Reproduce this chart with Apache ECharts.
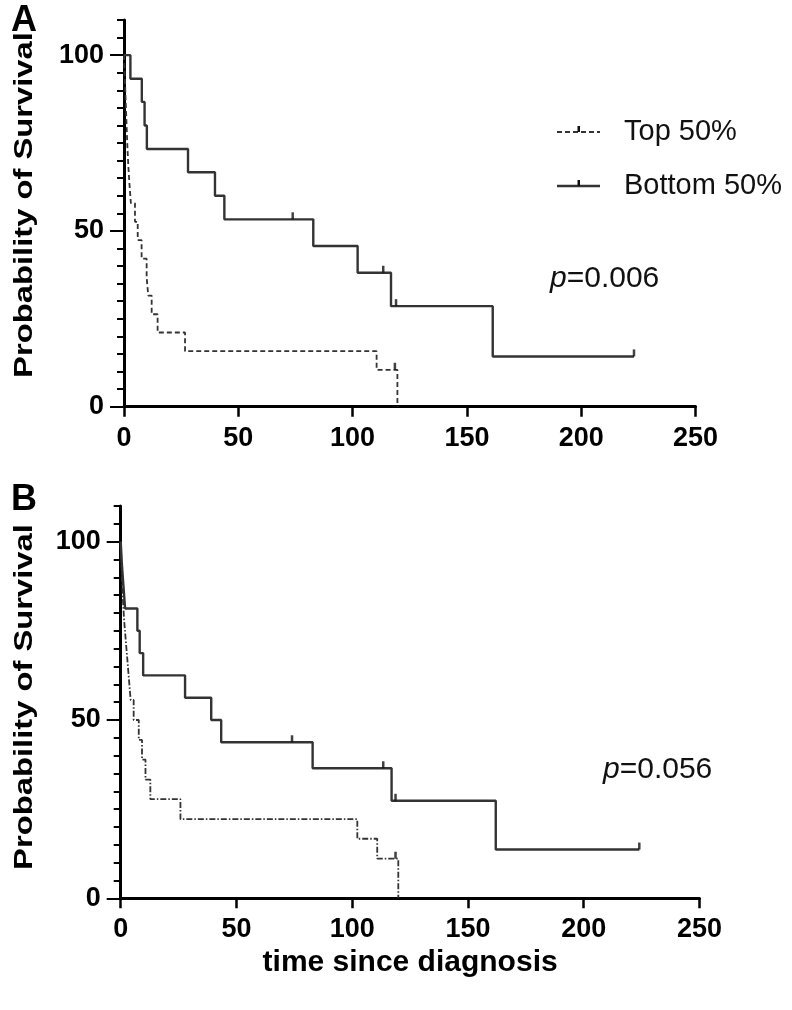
<!DOCTYPE html>
<html><head><meta charset="utf-8">
<script src="https://cdn.jsdelivr.net/npm/echarts@6/dist/echarts.min.js"></script>
<style>html,body{margin:0;padding:0;background:#fff}#c{width:792px;height:1010px}</style>
</head><body><div id="c"></div>
<script>
// ---- data ----
const xTickValues = [0, 50, 100, 150, 200, 250];
const yTickValues = [0, 50, 100];
const seriesNames = ['Top 50%', 'Bottom 50%'];
const xTitle = 'time since diagnosis';
const yTitle = 'Probability of Survival';
const pValueA = '0.006';
const pValueB = '0.056';

// Panel A
const topA_t = [0, 0.3, 0.6, 0.9, 1.2, 1.5, 1.9, 2.4, 3.0, 4.8, 6.0, 7.7, 9.9, 10.6, 12.1, 14.7, 26.7, 110.5, 119.6];
const topA_s = [100, 94.7, 89.5, 84.2, 78.9, 73.7, 68.4, 63.2, 57.9, 52.6, 47.4, 42.1, 36.8, 31.6, 26.3, 21.1, 15.8, 10.5, 0];
const topA_censor_t = [118.5];
const topA_censor_s = [10.5];
const botA_t = [0, 2.8, 7.8, 9.0, 10.0, 28.0, 39.8, 43.9, 82.8, 102.2, 116.8, 161.3, 223.1];
const botA_s = [100, 93.3, 86.7, 80.0, 73.3, 66.7, 60.0, 53.3, 45.7, 38.1, 28.6, 14.3, 14.3];
const botA_censor_t = [73.8, 113.4, 119.0, 223.1];
const botA_censor_s = [53.3, 38.1, 28.6, 14.3];

// Panel B
const topB_t = [0, 0.3, 0.6, 1.0, 1.5, 2.2, 2.9, 3.6, 4.3, 5.6, 7.8, 9.2, 10.7, 12.8, 25.8, 102.2, 110.8, 119.9];
const topB_s = [100, 94.4, 88.9, 83.3, 77.8, 72.2, 66.7, 61.1, 55.6, 50.0, 44.4, 38.9, 33.3, 27.8, 22.2, 16.7, 11.1, 0];
const topB_censor_t = [118.7];
const topB_censor_s = [11.1];
const botB_t = [0, 0.5, 1.2, 1.9, 7.2, 8.2, 9.7, 27.8, 39.1, 43.4, 82.9, 117.0, 162.0, 224.0];
const botB_s = [100, 93.75, 87.5, 81.25, 75, 68.75, 62.5, 56.25, 50, 43.75, 36.46, 27.34, 13.67, 13.67];
const botB_censor_t = [74.0, 113.4, 118.7, 224.0];
const botB_censor_s = [43.75, 36.46, 27.34, 13.67];

// ---- chart ----
const F = "'Liberation Sans',Arial,sans-serif";
const pairs = (t, s) => t.map((v, i) => [v, s[i]]);
const chart = echarts.init(document.getElementById('c'));
const LINE = '#333333';

function xAxis(gi, withName) {
  const a = {
    type: 'value', gridIndex: gi, min: 0, max: 250, interval: 50,
    axisLine: { show: true, onZero: false, lineStyle: { color: '#000', width: 3 } },
    axisTick: { show: true, length: 10, customValues: xTickValues, lineStyle: { color: '#000', width: 2.5 } },
    axisLabel: { customValues: xTickValues, margin: 18, fontSize: 27, fontWeight: 'bold', color: '#000', fontFamily: F },
    splitLine: { show: false }
  };
  if (withName) {
    a.name = xTitle; a.nameLocation = 'middle'; a.nameGap = 49;
    a.nameTextStyle = { fontSize: 30, fontWeight: 'bold', color: '#000', fontFamily: F };
  }
  return a;
}
function yMinor(gi) {
  return {
    type: 'value', gridIndex: gi, position: 'left', min: 0, max: 110, interval: 5,
    axisLine: { show: true, onZero: false, lineStyle: { color: '#000', width: 3 } },
    axisTick: { show: true, length: 7, lineStyle: { color: '#000', width: 2 } },
    axisLabel: { show: false }, splitLine: { show: false }
  };
}
function yMajor(gi) {
  return {
    type: 'value', gridIndex: gi, position: 'left', offset: 0, min: 0, max: 110, interval: 5,
    axisLine: { show: false, onZero: false },
    axisTick: { show: true, length: 14, customValues: yTickValues, lineStyle: { color: '#000', width: 2 } },
    axisLabel: { customValues: yTickValues, margin: 20, fontSize: 27, fontWeight: 'bold', color: '#000', fontFamily: F },
    splitLine: { show: false }
  };
}
function stepLine(name, t, s, xi, yi, dash, width) {
  return {
    type: 'line', name: name, xAxisIndex: xi, yAxisIndex: yi, step: 'end', symbol: 'none',
    data: pairs(t, s), silent: true, z: 3,
    lineStyle: { color: LINE, width: width, type: dash, cap: 'butt' }
  };
}
function censor(t, s, xi, yi) {
  return {
    type: 'scatter', xAxisIndex: xi, yAxisIndex: yi, data: pairs(t, s), silent: true, z: 4,
    symbol: 'rect', symbolSize: [2.5, 7], symbolOffset: [0, -3.5],
    itemStyle: { color: '#111' }
  };
}

const option = {
  backgroundColor: '#fff',
  animation: false,
  grid: [
    { left: 124, top: 20, width: 571.5, height: 386.7 },
    { left: 120.7, top: 506, width: 578.8, height: 392.3 }
  ],
  xAxis: [xAxis(0, false), xAxis(1, true)],
  yAxis: [yMinor(0), yMajor(0), yMinor(1), yMajor(1)],
  series: [
    stepLine(seriesNames[0], topA_t, topA_s, 0, 0, [5, 3], 1.8),
    stepLine(seriesNames[1], botA_t, botA_s, 0, 0, 'solid', 2.4),
    censor(topA_censor_t, topA_censor_s, 0, 0),
    censor(botA_censor_t, botA_censor_s, 0, 0),
    stepLine(seriesNames[0], topB_t, topB_s, 1, 2, [6, 2, 1.5, 2], 1.8),
    stepLine(seriesNames[1], botB_t, botB_s, 1, 2, 'solid', 2.4),
    censor(topB_censor_t, topB_censor_s, 1, 2),
    censor(botB_censor_t, botB_censor_s, 1, 2)
  ],
  graphic: [
    { type: 'text', style: { x: 11, y: 3, text: 'A', fontSize: 36, fontWeight: 'bold', fontFamily: F, fill: '#000' } },
    { type: 'text', style: { x: 11, y: 482, text: 'B', fontSize: 36, fontWeight: 'bold', fontFamily: F, fill: '#000' } },
    { type: 'text', x: 25, y: 205, rotation: Math.PI / 2, scaleX: 1.31,
      style: { x: 0, y: 0, text: yTitle, fontSize: 25, fontWeight: 'bold', fontFamily: F, fill: '#000', align: 'center', verticalAlign: 'middle' } },
    { type: 'text', x: 25, y: 697, rotation: Math.PI / 2, scaleX: 1.31,
      style: { x: 0, y: 0, text: yTitle, fontSize: 25, fontWeight: 'bold', fontFamily: F, fill: '#000', align: 'center', verticalAlign: 'middle' } },
    // legend
    { type: 'line', shape: { x1: 557, y1: 132, x2: 600, y2: 132 }, style: { stroke: LINE, lineWidth: 1.8, lineDash: [5, 3] } },
    { type: 'rect', shape: { x: 577.5, y: 126, width: 2.5, height: 6 }, style: { fill: '#111' } },
    { type: 'text', style: { x: 624, y: 132, text: seriesNames[0], fontSize: 29, fontFamily: F, fill: '#111', verticalAlign: 'middle' } },
    { type: 'line', shape: { x1: 557, y1: 186, x2: 600, y2: 186 }, style: { stroke: LINE, lineWidth: 2.4 } },
    { type: 'rect', shape: { x: 577.5, y: 180, width: 2.5, height: 6 }, style: { fill: '#111' } },
    { type: 'text', style: { x: 624, y: 186, text: seriesNames[1], fontSize: 29, fontFamily: F, fill: '#111', verticalAlign: 'middle' } },
    // p values
    { type: 'text', style: { x: 550, y: 279, text: '{i|p}=' + pValueA, fontSize: 30, fontFamily: F, fill: '#111', verticalAlign: 'middle',
      rich: { i: { fontStyle: 'italic', fontSize: 30, fontFamily: F, fill: '#111' } } } },
    { type: 'text', style: { x: 603, y: 770, text: '{i|p}=' + pValueB, fontSize: 30, fontFamily: F, fill: '#111', verticalAlign: 'middle',
      rich: { i: { fontStyle: 'italic', fontSize: 30, fontFamily: F, fill: '#111' } } } }
  ]
};
chart.setOption(option);
</script>
</body></html>
